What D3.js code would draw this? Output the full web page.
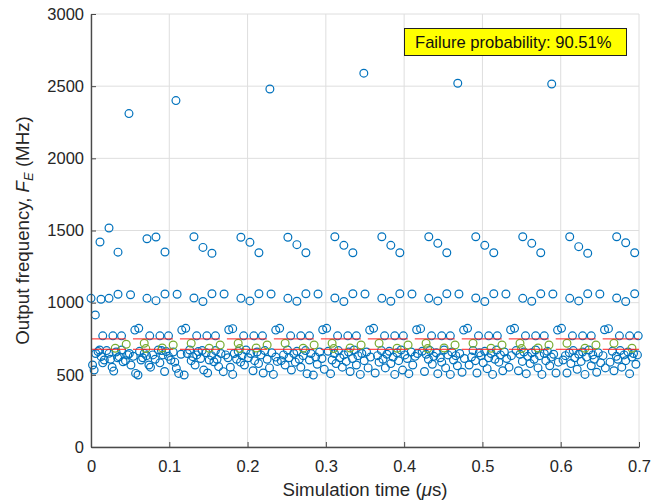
<!DOCTYPE html>
<html><head><meta charset="utf-8">
<script src="https://cdn.jsdelivr.net/npm/d3@7"></script>
<style>body{margin:0;background:#fff}svg{display:block}text{font-family:"Liberation Sans",Arial,Helvetica,sans-serif}</style>
</head><body><svg id="c" width="662" height="502"></svg>
<script>
const xTicks=[0,0.1,0.2,0.3,0.4,0.5,0.6,0.7];
const yTicks=[0,500,1000,1500,2000,2500,3000];
const xTickLabels=["0","0.1","0.2","0.3","0.4","0.5","0.6","0.7"];
const yTickLabels=["0","500","1000","1500","2000","2500","3000"];
const failureText="Failure probability: 90.51%";

// outliers
const outlierT=[0.0485,0.1085,0.2285,0.3485,0.4685,0.5885];
const outlierF=[2310,2400,2480,2590,2520,2515];
// 1350-1520 row
const highT=[0.0115,0.023,0.0345, 0.0715,0.083,0.0945, 0.1315,0.143,0.1545, 0.1915,0.203,0.2145, 0.2515,0.263,0.2745, 0.3115,0.323,0.3345, 0.3715,0.383,0.3945, 0.4315,0.443,0.4545, 0.4915,0.503,0.5145, 0.5515,0.563,0.5745, 0.6115,0.623,0.6345, 0.6715,0.683,0.6945];
const highF=[1420,1517,1350, 1443,1455,1351, 1457,1383,1342, 1453,1418,1346, 1453,1402,1346, 1457,1397,1346, 1457,1397,1346, 1457,1411,1346, 1457,1397,1346, 1457,1411,1346, 1457,1388,1342, 1457,1415,1346];
// 1000-1060 row
const midT=[0.000,0.0055,0.0128,0.023,0.0345,0.0505, 0.0715,0.083,0.0945,0.110, 0.1315,0.143,0.1545,0.170, 0.1915,0.203,0.2145,0.230, 0.2515,0.263,0.2745,0.290, 0.3115,0.323,0.3345,0.350, 0.3715,0.383,0.3945,0.410, 0.4315,0.443,0.4545,0.470, 0.4915,0.503,0.5145,0.530, 0.5515,0.563,0.5745,0.590, 0.6115,0.623,0.6345,0.650, 0.6715,0.683,0.6945];
const midF=[1030,915,1024,1030,1058,1055, 1030,1014,1060,1058, 1032,1008,1062,1060, 1030,1012,1062,1060, 1030,1010,1062,1060, 1032,1008,1062,1060, 1030,1010,1062,1060, 1030,1012,1062,1060, 1032,1008,1062,1060, 1030,1010,1062,1060, 1030,1012,1062,1060, 1032,1008,1062];
// ~810-822 pairs
const pairT=[0.056,0.061, 0.116,0.121, 0.176,0.181, 0.236,0.241, 0.296,0.301, 0.356,0.361, 0.416,0.421, 0.476,0.481, 0.536,0.541, 0.596,0.601, 0.656,0.661];
const pairF=[810,822, 810,822, 812,820, 810,822, 812,822, 810,822, 812,820, 810,822, 812,822, 810,822, 812,820];
// ~770 row
const rowT=[0.015,0.028,0.039, 0.075,0.088,0.099, 0.135,0.148,0.159, 0.195,0.208,0.219, 0.255,0.268,0.279, 0.315,0.328,0.339, 0.375,0.388,0.399, 0.435,0.448,0.459, 0.495,0.508,0.519, 0.555,0.568,0.579, 0.615,0.628,0.639, 0.675,0.688,0.699];
const rowF=[770,770,770, 770,770,770, 770,770,770, 770,770,770, 770,770,770, 770,770,770, 770,770,770, 770,770,770, 770,770,770, 770,770,770, 770,770,770, 770,770,770];
// dense band below lower limit
const bandPts=[
[0.002,568],[0.004,533],[0.006,648],[0.009,661],[0.011,672],[0.013,626],[0.015,583],[0.017,603],[0.020,668],[0.023,649],[0.025,608],[0.027,553],[0.029,526],[0.032,658],[0.034,618],[0.036,626],[0.039,672],[0.041,591],[0.044,598],[0.047,638],[0.049,648],[0.051,568],[0.054,628],[0.057,510],
[0.060,499],[0.062,663],[0.064,603],[0.066,618],[0.068,649],[0.071,633],[0.074,568],[0.076,553],[0.079,638],[0.082,608],[0.086,672],[0.088,583],[0.090,668],[0.092,638],[0.094,523],[0.096,661],[0.099,628],[0.102,603],[0.105,658],[0.107,588],[0.109,545],[0.112,510],[0.115,643],[0.119,499],
[0.123,648],[0.126,672],[0.128,598],[0.130,626],[0.133,568],[0.135,638],[0.137,661],[0.140,613],[0.142,668],[0.144,533],[0.147,653],[0.149,513],[0.151,603],[0.154,633],[0.157,591],[0.159,668],[0.161,608],[0.163,557],[0.166,648],[0.169,522],[0.172,638],[0.175,618],[0.178,553],
[0.181,503],[0.183,648],[0.186,608],[0.188,663],[0.191,588],[0.193,633],[0.196,568],[0.198,672],[0.201,618],[0.204,648],[0.207,528],[0.209,598],[0.212,658],[0.214,578],[0.217,638],[0.220,513],[0.222,668],[0.225,608],[0.228,548],[0.231,653],[0.233,503],[0.236,623],[0.238,593],
[0.243,598],[0.246,638],[0.248,568],[0.251,672],[0.253,618],[0.256,533],[0.259,648],[0.261,588],[0.263,663],[0.266,608],[0.268,553],[0.271,633],[0.274,668],[0.276,508],[0.279,603],[0.281,648],[0.284,498],[0.287,623],[0.289,573],[0.292,658],[0.295,613],[0.298,538],
[0.303,663],[0.306,508],[0.308,603],[0.311,648],[0.313,578],[0.316,668],[0.318,618],[0.321,553],[0.323,638],[0.326,593],[0.329,658],[0.331,523],[0.334,613],[0.336,672],[0.339,568],[0.341,633],[0.344,503],[0.346,648],[0.349,598],[0.352,658],[0.354,548],[0.357,623],
[0.363,513],[0.366,633],[0.368,588],[0.371,668],[0.373,608],[0.376,548],[0.378,643],[0.381,663],[0.383,578],[0.386,623],[0.388,503],[0.391,653],[0.393,598],[0.396,672],[0.398,533],[0.401,638],[0.404,613],[0.406,508],[0.409,658],[0.411,568],[0.414,628],[0.417,648],
[0.423,663],[0.426,523],[0.428,643],[0.431,608],[0.433,668],[0.436,573],[0.438,628],[0.441,653],[0.443,508],[0.446,618],[0.448,588],[0.451,672],[0.453,548],[0.456,638],[0.459,503],[0.461,658],[0.463,603],[0.466,633],[0.468,563],[0.471,648],[0.474,518],[0.477,613],
[0.483,568],[0.486,623],[0.488,668],[0.491,598],[0.493,513],[0.496,653],[0.498,633],[0.501,583],[0.503,663],[0.506,543],[0.508,618],[0.511,648],[0.513,503],[0.516,608],[0.518,672],[0.521,588],[0.523,638],[0.526,528],[0.528,658],[0.531,613],[0.534,553],[0.537,633],
[0.543,668],[0.546,528],[0.548,643],[0.551,593],[0.553,658],[0.556,508],[0.558,628],[0.561,578],[0.563,653],[0.566,608],[0.568,672],[0.571,548],[0.573,633],[0.576,503],[0.579,648],[0.581,598],[0.583,663],[0.586,563],[0.588,623],[0.591,643],[0.594,513],[0.597,588],
[0.603,603],[0.606,633],[0.608,513],[0.611,653],[0.613,578],[0.616,668],[0.618,618],[0.621,538],[0.623,643],[0.626,593],[0.628,658],[0.631,503],[0.633,623],[0.636,672],[0.639,563],[0.641,638],[0.643,608],[0.646,518],[0.648,653],[0.651,583],[0.654,633],[0.657,548],
[0.663,588],[0.666,663],[0.668,528],[0.671,628],[0.673,608],[0.676,668],[0.678,553],[0.681,638],[0.683,598],[0.686,658],[0.688,508],[0.691,623],[0.693,648],[0.696,573],[0.698,638]
];
// in-spec points
const greenT=[0.031,0.045, 0.068,0.070,0.091,0.105, 0.128,0.151,0.165, 0.188,0.190,0.211,0.225, 0.248,0.271,0.285, 0.308,0.310,0.331,0.345, 0.368,0.391,0.405, 0.428,0.430,0.451,0.465, 0.488,0.511,0.525, 0.548,0.550,0.571,0.585, 0.608,0.631,0.645, 0.668,0.691];
const greenF=[684,712, 719,682,686,707, 719,684,707, 719,682,686,707, 719,684,707, 719,682,686,707, 719,684,707, 719,682,686,707, 719,684,707, 719,682,686,707, 719,684,707, 719,684];
// limit lines (segments per period)
const limitLevels=[749,677];
const segStart=[0,0.0536,0.1136,0.1736,0.2336,0.2936,0.3536,0.4136,0.4736,0.5336,0.5936,0.6536];
const segEnd=[0.0447,0.1047,0.1647,0.2247,0.2847,0.3447,0.4047,0.4647,0.5247,0.5847,0.6447,0.7];

const svg=d3.select("#c");
const L=91,R=639,T=14,B=447;
const x=d3.scaleLinear().domain([0,0.7]).range([L,R]);
const y=d3.scaleLinear().domain([0,3000]).range([B,T]);
const axisCol="#4a4a4a", textCol="#262626";

// grid
const g=svg.append("g");
g.selectAll("line.gx").data(xTicks).enter().append("line")
 .attr("x1",d=>x(d)).attr("x2",d=>x(d)).attr("y1",T).attr("y2",B)
 .attr("stroke","#dedede").attr("stroke-width",1);
g.selectAll("line.gy").data(yTicks).enter().append("line")
 .attr("x1",L).attr("x2",R).attr("y1",d=>y(d)).attr("y2",d=>y(d))
 .attr("stroke","#dedede").attr("stroke-width",1);

const clip=svg.append("clipPath").attr("id","cp").append("rect").attr("x",L-6).attr("y",T-6).attr("width",R-L+12).attr("height",B-T+12);
const plot=svg.append("g").attr("clip-path","url(#cp)");

function circles(ts,fs,col){
  plot.append("g").selectAll("circle").data(ts.map((t,i)=>[t,fs[i]])).enter().append("circle")
   .attr("cx",d=>x(d[0])).attr("cy",d=>y(d[1])).attr("r",3.9)
   .attr("fill","none").attr("stroke",col).attr("stroke-width",1.2);
}
const blue="#0072BD";
circles(bandPts.map(d=>d[0]),bandPts.map(d=>d[1]),blue);
circles(rowT,rowF,blue);
circles(pairT,pairF,blue);
circles(midT,midF,blue);
circles(highT,highF,blue);
circles(outlierT,outlierF,blue);
circles(greenT,greenF,"#77AC30");

// limit segments
limitLevels.forEach(lv=>{
  plot.append("g").selectAll("line").data(segStart.map((s,i)=>[s,segEnd[i]])).enter().append("line")
   .attr("x1",d=>x(d[0])).attr("x2",d=>x(d[1])).attr("y1",y(lv)).attr("y2",y(lv))
   .attr("stroke","#ff2020").attr("stroke-width",1);
});

// axes
const xa=d3.axisBottom(x).tickValues(xTicks).tickFormat((d,i)=>xTickLabels[i]).tickSizeInner(-5).tickSizeOuter(0).tickPadding(13);
const ya=d3.axisLeft(y).tickValues(yTicks).tickFormat((d,i)=>yTickLabels[i]).tickSizeInner(-5).tickSizeOuter(0).tickPadding(7);
const gx=svg.append("g").attr("transform",`translate(0,${B})`).call(xa);
const gy=svg.append("g").attr("transform",`translate(${L},0)`).call(ya);
[gx,gy].forEach(a=>{
  a.select(".domain").attr("stroke",axisCol).attr("stroke-width",1.4);
  a.selectAll(".tick line").attr("stroke",axisCol).attr("stroke-width",1);
  a.selectAll(".tick text").attr("fill",textCol).attr("font-size","16.5px").attr("font-family",'"Liberation Sans",Arial,sans-serif');
});

// labels
const xl=svg.append("text").attr("x",(L+R)/2).attr("y",496).attr("text-anchor","middle")
 .attr("font-size","18.7px").attr("fill",textCol);
xl.append("tspan").text("Simulation time (");
xl.append("tspan").attr("font-style","italic").text("\u03bc");
xl.append("tspan").text("s)");

const yl=svg.append("text").attr("transform",`translate(29,${(T+B)/2}) rotate(-90)`).attr("text-anchor","middle")
 .attr("font-size","18.7px").attr("fill",textCol);
yl.append("tspan").text("Output frequency, ");
yl.append("tspan").attr("font-style","italic").text("F");
yl.append("tspan").attr("font-style","italic").attr("font-size","13px").attr("dy",4).text("E");
yl.append("tspan").attr("dy",-4).text(" (MHz)");

// annotation
svg.append("rect").attr("x",404.5).attr("y",28.5).attr("width",222).attr("height",27)
 .attr("fill","#ffff00").attr("stroke","#222").attr("stroke-width",1);
svg.append("text").attr("x",415).attr("y",48).attr("font-size","16.6px").attr("fill","#111").text(failureText);
</script></body></html>
